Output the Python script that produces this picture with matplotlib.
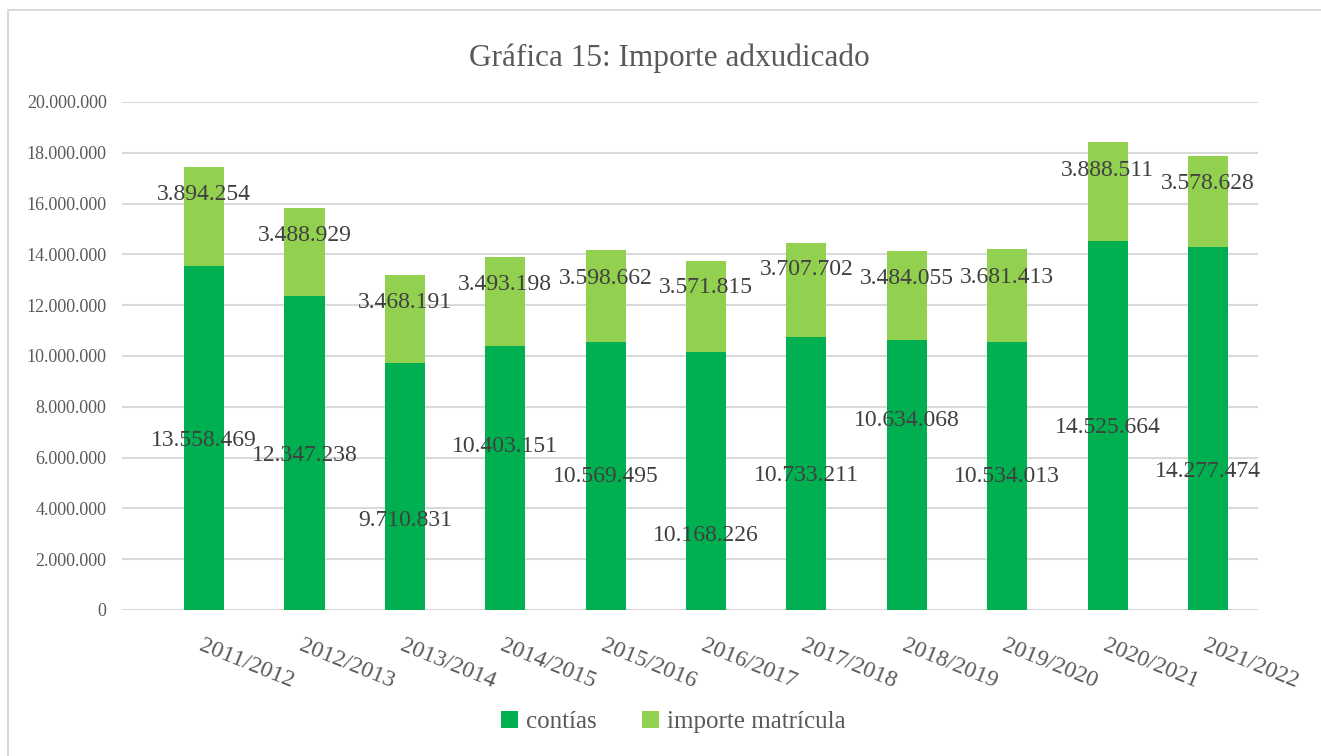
import matplotlib.pyplot as plt
import numpy as np
from matplotlib.patches import Rectangle

# data
cursos = ['2011/2012', '2012/2013', '2013/2014', '2014/2015', '2015/2016', '2016/2017',
          '2017/2018', '2018/2019', '2019/2020', '2020/2021', '2021/2022']
contias = [13558469, 12347238, 9710831, 10403151, 10569495, 10168226,
           10733211, 10634068, 10534013, 14525664, 14277474]
matricula = [3894254, 3488929, 3468191, 3493198, 3598662, 3571815,
             3707702, 3484055, 3681413, 3888511, 3578628]

# where the labels sit in the original (they are scattered, not centred)
label_y_contias = [6.69e6, 6.10e6, 3.54e6, 6.42e6, 5.24e6, 2.95e6,
                   5.31e6, 7.48e6, 5.24e6, 7.20e6, 5.47e6]
label_y_matricula = [16.34e6, 14.76e6, 12.10e6, 12.80e6, 13.07e6, 12.68e6,
                     13.39e6, 13.07e6, 13.11e6, 17.32e6, 16.81e6]

def fmt(v):
    return f'{v:,}'.replace(',', '.')

plt.rcParams['font.family'] = ['Liberation Serif', 'DejaVu Serif']

fig = plt.figure(figsize=(13.21, 7.56), dpi=100)
fig.patches.append(Rectangle((8 / 1321, -0.05), 1.1, 1 - 10 / 756 + 0.05,
                             transform=fig.transFigure, fill=False,
                             edgecolor='#D9D9D9', linewidth=1.5))

ax = fig.add_axes([122 / 1321, 1 - 610 / 756, 1136 / 1321, 508 / 756])
x = np.arange(len(cursos))
ax.bar(x, contias, width=0.4, color='#00B050', label='contías', zorder=3)
ax.bar(x, matricula, width=0.4, bottom=contias, color='#92D050',
       label='importe matrícula', zorder=3)

for i in range(len(cursos)):
    ax.text(x[i], label_y_contias[i], fmt(contias[i]), ha='center', va='center',
            fontsize=17, color='#404040', zorder=4)
    ax.text(x[i], label_y_matricula[i], fmt(matricula[i]), ha='center', va='center',
            fontsize=17, color='#404040', zorder=4)

ax.set_xlim(-0.817, 10.498)
ax.set_ylim(0, 20000000)
ax.set_yticks(np.arange(0, 20000001, 2000000))
ax.set_yticklabels([fmt(int(v)) for v in np.arange(0, 20000001, 2000000)],
                   fontsize=13, color='#595959')
ax.yaxis.grid(True, color='#D9D9D9', linewidth=1.5, zorder=0)
ax.set_axisbelow(True)
for s in ax.spines.values():
    s.set_visible(False)
ax.tick_params(axis='both', length=0)
ax.tick_params(axis='y', pad=11)

ax.set_xticks(x)
ax.set_xticklabels(cursos, rotation=-22, ha='left', va='top',
                   rotation_mode='anchor', fontsize=17, color='#595959')
ax.tick_params(axis='x', pad=18)

ax.set_title('Gráfica 15: Importe adxudicado', fontsize=22.5, color='#595959',
             pad=26, x=0.482)

fig.legend(loc='center', bbox_to_anchor=(673 / 1321, 1 - 722 / 756), ncol=2,
           frameon=False, fontsize=18, labelcolor='#595959',
           handlelength=0.7, handleheight=0.7, handletextpad=0.3, columnspacing=1.8)

fig.savefig('out.png', dpi=100)
